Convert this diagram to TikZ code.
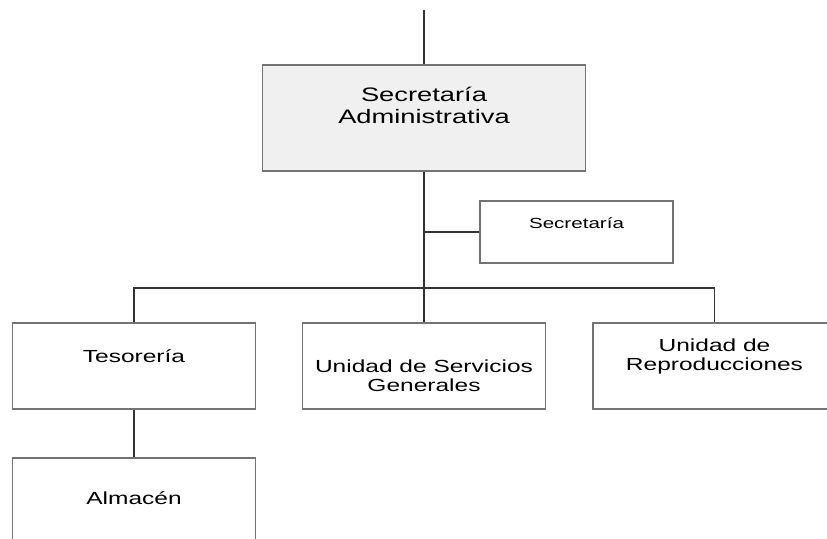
\documentclass[tikz,border=0pt]{standalone}
\usepackage{fontspec}
\setmainfont[FakeStretch=1.4]{Liberation Sans}
\usetikzlibrary{positioning}

\tikzset{
    caja/.style={draw=black!55, line width=1.1pt, minimum width=243pt, minimum height=86pt, inner sep=0pt},
    txt/.style={anchor=north, inner sep=0pt, align=center, font=\fontsize{17.5}{18.8}\selectfont},
    linea/.style={draw=black!80, line width=1.5pt}
}

\begin{document}
\begin{tikzpicture}[x=1pt,y=-1pt]

    \useasboundingbox (0,0) rectangle (827,538);
    \clip (0,0) rectangle (827,538);

    % secretaria administrativa
    \node[caja, fill=black!6, minimum width=323pt, minimum height=106pt,
          label={[txt, yshift=-22pt, font=\fontsize{19.5}{22.5}\selectfont]north:Secretaría\\Administrativa}]
          (admin) at (424,118) {};
    \coordinate (top) at (424,10);

    % secretaria
    \node[caja, minimum width=193pt, minimum height=62pt,
          label={[txt, yshift=-17.5pt, font=\fontsize{14.7}{17}\selectfont]north:Secretaría}]
          (sec) at (576.5,232) {};

    % unidades
    \node[caja, label={[txt, yshift=-26.5pt]north:Tesorería}] (tes) at (134,366) {};
    \node[caja, label={[txt, yshift=-37pt]north:Unidad de Servicios\\Generales}] (usg) at (424,366) {};
    \node[caja, label={[txt, yshift=-16.5pt]north:Unidad de\\Reproducciones}] (rep) at (714.5,366) {};
    \node[caja, label={[txt, yshift=-34pt]north:Almacén}] (alm) at (134,501) {};

    \coordinate (bus) at (424,288);

    \draw[linea] (top) -- (admin.north);
    \draw[linea] (admin.south) -- (usg.north);
    \draw[linea] (sec.west) -- (sec.west -| admin.south);
    \draw[linea] (tes.north) |- (bus) -| (rep.north);
    \draw[linea] (tes.south) -- (alm.north);

\end{tikzpicture}
\end{document}
